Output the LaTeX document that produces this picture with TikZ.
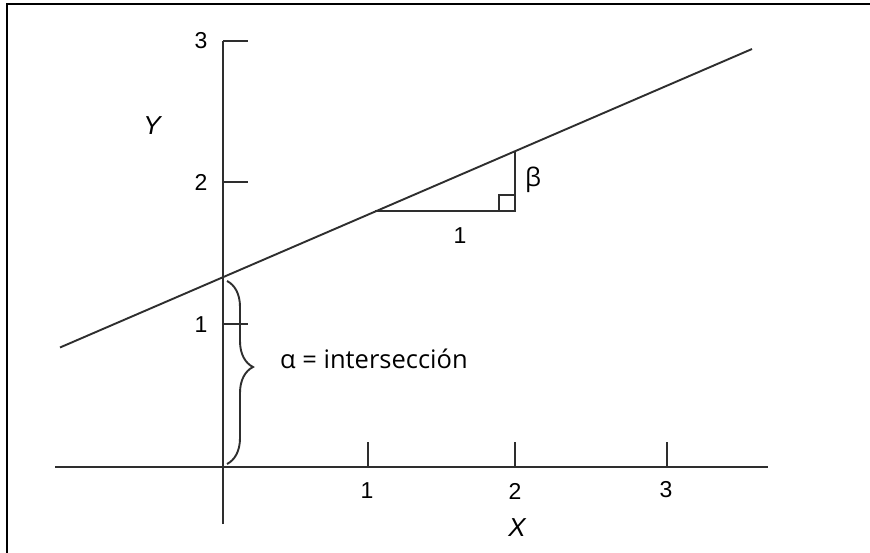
\documentclass[tikz,border=0pt]{standalone}
\usepackage{fontspec}
\setmainfont{Liberation Sans}
\newfontfamily\labfont{Open Sans}
\usetikzlibrary{decorations.pathreplacing}
\begin{document}
\begin{tikzpicture}[x=1pt,y=-1pt,
  ln/.style={line width=1.9pt, draw=black!82},
  num/.style={font=\fontsize{23}{27}\selectfont, inner sep=0pt},
  axlab/.style={font=\fontsize{26}{30}\selectfont\itshape, inner sep=0pt},
  greek/.style={font=\labfont\fontsize{25.5}{30}\selectfont, inner sep=0pt}]
\useasboundingbox (0,0) rectangle (870,553);
\fill[white] (0,0) rectangle (870,553);
% frame
\coordinate (fbl) at (7,560);
\coordinate (ftl) at (7,4);
\coordinate (ftr) at (880,4);
\draw[line width=2.6pt] (fbl) -- (ftl) -- (ftr);
% axes
\coordinate (xl) at (55,467);
\coordinate (xr) at (768,467);
\coordinate (yt) at (223,41);
\coordinate (yb) at (223,524);
\draw[ln] (xl) -- (xr);
\draw[ln] (yb) -- (yt);
% x ticks
\foreach \n/\x in {1/368,2/515,3/667}{
  \coordinate (xt\n) at (\x,467);
  \coordinate (xe\n) at (\x,442);
  \draw[ln] (xt\n) -- (xe\n);
}
\node[num] (xl1) at (367,491) {1};
\node[num] (xl2) at (515,491) {2};
\node[num] (xl3) at (666,490) {3};
\node[axlab] (X) at (517,528) {X};
% y ticks
\foreach \n/\y in {1/324,2/182,3/41}{
  \coordinate (yt\n) at (223,\y);
  \coordinate (ye\n) at (248,\y);
  \draw[ln] (yt\n) -- (ye\n);
}
\node[num] (yl1) at (201,325) {1};
\node[num] (yl2) at (201,182) {2};
\node[num] (yl3) at (201,41) {3};
\node[axlab] (Y) at (152,126) {Y};
% regression line
\coordinate (ls) at (60,347.5);
\coordinate (le) at (752,49);
\draw[ln] (ls) -- (le);
% slope triangle
\coordinate (ta) at (375,211);
\coordinate (tb) at (515,211);
\coordinate (tc) at (515,151.5);
\draw[ln] (ta) -- (tb) -- (tc);
\coordinate (sq1) at (499,211);
\coordinate (sq2) at (499,195);
\coordinate (sq3) at (515,195);
\draw[ln, line width=1.5pt] (sq1) -- (sq2) -- (sq3);
\node[greek] (beta) at (533,180) {β};
\node[num] (one) at (460,236) {1};
% brace
\coordinate (bt) at (227,281);
\coordinate (bb) at (227,464);
\draw[ln, decorate, decoration={brace, amplitude=26pt, aspect=0.47}] (bt) -- (bb);
\node[greek, anchor=west] (alpha) at (280,359) {α = intersección};
\end{tikzpicture}
\end{document}
